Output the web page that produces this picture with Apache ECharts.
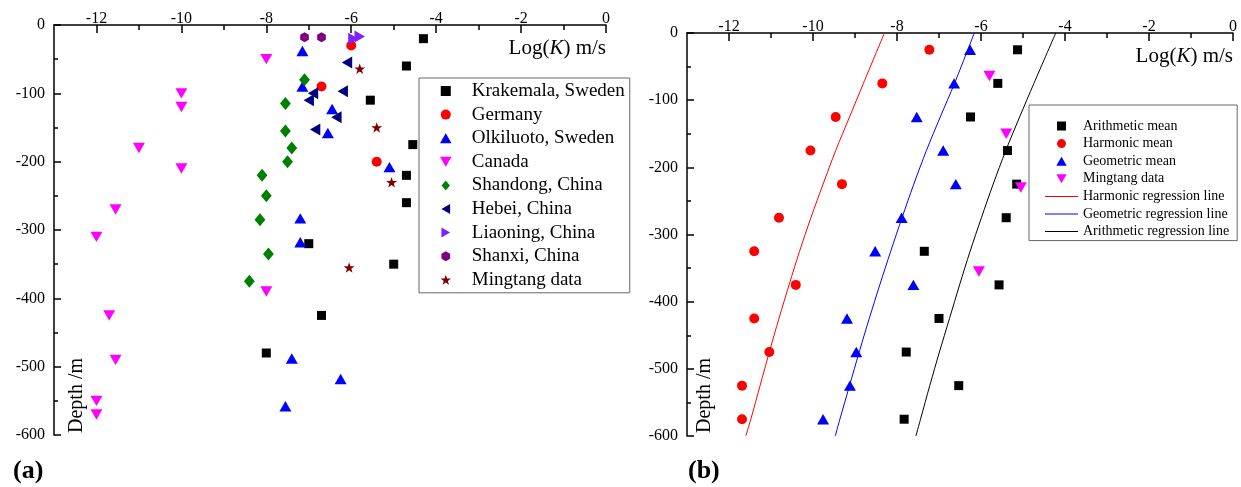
<!DOCTYPE html>
<html>
<head>
<meta charset="utf-8">
<script src="https://cdn.jsdelivr.net/npm/echarts@6/dist/echarts.min.js"></script>
<style>
  html, body { margin: 0; padding: 0; background: #fff; }
  #chart { width: 1241px; height: 487px; }
</style>
</head>
<body>
<div id="chart"></div>
<script>
// ---- panel (a): log(K) vs depth, by site ----
const krakemala = [[-4.3,-20],[-4.7,-60],[-5.55,-110],[-4.55,-175],[-4.7,-220],[-4.7,-260],[-7.0,-320],[-5.0,-350],[-6.7,-425],[-8.0,-480]];
const germany = [[-6.0,-30],[-6.7,-90],[-5.4,-200]];
const olkiluoto = [[-7.15,-38],[-7.15,-90],[-6.45,-123],[-6.55,-158],[-5.1,-208],[-7.2,-283],[-7.2,-318],[-7.4,-488],[-6.25,-518],[-7.55,-558]];
const canada = [[-8,-50],[-10,-100],[-10,-120],[-11,-180],[-10,-210],[-11.55,-270],[-12,-310],[-8,-390],[-11.7,-425],[-11.55,-490],[-12,-550],[-12,-570]];
const shandong = [[-7.1,-80],[-7.55,-115],[-7.55,-155],[-7.4,-180],[-7.5,-200],[-8.1,-220],[-8.0,-250],[-8.15,-285],[-7.95,-335],[-8.4,-375]];
const hebei = [[-6.1,-55],[-6.2,-97],[-6.9,-100],[-7.0,-110],[-6.35,-135],[-6.85,-153]];
const liaoning = [[-5.95,-20],[-5.8,-17]];
const shanxi = [[-7.1,-18],[-6.7,-18]];
const mingtang = [[-5.8,-64],[-5.4,-150],[-5.05,-230],[-6.05,-355]];

// ---- panel (b): means per 50 m interval ----
const depthsB = [-25,-75,-125,-175,-225,-275,-325,-375,-425,-475,-525,-575];
const arithmetic = [-5.13,-5.6,-6.25,-5.37,-5.15,-5.4,-7.35,-5.57,-7.0,-7.78,-6.53,-7.83];
const harmonic = [-7.23,-8.35,-9.46,-10.06,-9.31,-10.81,-11.4,-10.41,-11.4,-11.04,-11.69,-11.69];
const geometric = [-6.26,-6.64,-7.53,-6.9,-6.6,-7.89,-8.52,-7.61,-9.19,-8.97,-9.12,-9.76];

// regression curves
const lineDepths = [0,-75,-125,-175,-225,-275,-325,-375,-425,-475,-525,-575,-600];
const harmonicLine = [-8.3,-8.8,-9.13,-9.46,-9.76,-10.05,-10.32,-10.57,-10.81,-11.04,-11.26,-11.48,-11.6];
const geometricLine = [-6.16,-6.63,-6.97,-7.3,-7.6,-7.88,-8.15,-8.41,-8.66,-8.9,-9.13,-9.36,-9.47];
const arithmeticLine = [-4.22,-4.74,-5.08,-5.41,-5.71,-5.99,-6.26,-6.51,-6.75,-6.99,-7.22,-7.44,-7.55];

const xMajor = [-12,-10,-8,-6,-4,-2,0];
const xMinor = [-11,-9,-7,-5,-3,-1];

const font = 'Liberation Serif';
const square = 'path://M0,0L10,0L10,10L0,10Z';
const diamond = 'path://M5,0L10,6L5,12L0,6Z';
const upTri = 'path://M5,0L10,8.66L0,8.66Z';
const downTri = 'path://M0,0L10,0L5,8.66Z';
const leftTri = 'path://M0,5L8.66,0L8.66,10Z';
const rightTri = 'path://M0,0L8.66,5L0,10Z';
const hexagon = 'path://M5,0L9.33,2.5L9.33,7.5L5,10L0.67,7.5L0.67,2.5Z';
const star = 'path://M5,0L6.18,3.45L9.76,3.45L6.88,5.6L7.94,9.05L5,6.9L2.06,9.05L3.12,5.6L0.24,3.45L3.82,3.45Z';
const lineIcon = 'path://M0,0L33,0L33,1L0,1Z';

function zip(xs, ys){
    return xs.map((x, i) => [x, ys[i]]);
}

function xAxes(grid){
    const base = {
        gridIndex: grid, type: 'value', position: 'top', min: -13, max: 0,
        splitLine: {show: false}
    };
    return [
        Object.assign({}, base, {
            name: 'Log({i|K}) m/s',
            nameLocation: 'end',
            nameGap: 0,
            nameTextStyle: {
                fontFamily: font, fontSize: 21, color: '#000',
                align: 'right', verticalAlign: 'top', padding: [13, 0, 0, 0],
                rich: {i: {fontFamily: font, fontSize: 21, fontStyle: 'italic', color: '#000'}}
            },
            axisLine: {onZero: false, lineStyle: {color: '#000', width: 1.5}},
            axisTick: {inside: true, length: 8, customValues: xMajor, lineStyle: {color: '#000', width: 1.5}},
            axisLabel: {customValues: xMajor, margin: -2, fontFamily: font, fontSize: 16, color: '#000'}
        }),
        // odd-valued minor ticks
        Object.assign({}, base, {
            axisLine: {show: false, onZero: false},
            axisTick: {inside: true, length: 5, customValues: xMinor, lineStyle: {color: '#000', width: 1.5}},
            axisLabel: {show: false}
        })
    ];
}

function yAxis(grid){
    return {
        gridIndex: grid, type: 'value', min: -600, max: 0, interval: 100,
        splitLine: {show: false},
        axisLine: {show: true, onZero: false, lineStyle: {color: '#000', width: 1.5}},
        axisTick: {show: true, inside: true, length: 7, lineStyle: {color: '#000', width: 1.5}},
        minorTick: {show: true, splitNumber: 2, length: 4, lineStyle: {color: '#000', width: 1.5}},
        axisLabel: {margin: 9, fontFamily: font, fontSize: 16, color: '#000'}
    };
}

function scatter(name, data, symbol, size, color, xi, yi){
    return {
        name: name, type: 'scatter', data: data,
        xAxisIndex: xi, yAxisIndex: yi,
        symbol: symbol, symbolSize: size, symbolKeepAspect: true,
        itemStyle: {color: color, opacity: 1}
    };
}

function curve(name, data, color){
    return {
        name: name, type: 'line', data: data, xAxisIndex: 2, yAxisIndex: 1,
        symbol: 'none', smooth: 0.3, lineStyle: {color: color, width: 1},
        itemStyle: {color: color}
    };
}

const chart = echarts.init(document.getElementById('chart'));
chart.setOption({
    animation: false,
    backgroundColor: '#fff',
    grid: [
        {left: 54, top: 25, width: 552, height: 410},
        {left: 687, top: 33, width: 546, height: 403}
    ],
    xAxis: xAxes(0).concat(xAxes(1)),
    yAxis: [yAxis(0), yAxis(1)],
    legend: [
        {
            // content box is trimmed to the widest icon, hence the large left padding
            orient: 'vertical', align: 'left', left: 419, top: 78,
            padding: [3, 5, 3, 21], itemGap: 3.6, itemWidth: 42, itemHeight: 10,
            borderColor: '#666', borderWidth: 1, backgroundColor: '#fff',
            textStyle: {fontFamily: font, fontSize: 19, lineHeight: 20, color: '#000'},
            data: ['Krakemala, Sweden','Germany','Olkiluoto, Sweden','Canada','Shandong, China',
                   'Hebei, China','Liaoning, China','Shanxi, China','Mingtang data']
        },
        {
            orient: 'vertical', align: 'left', left: 1029, top: 105,
            padding: [13, 8, 1, 16], itemGap: 1.6, itemWidth: 33, itemHeight: 9,
            borderColor: '#666', borderWidth: 1, backgroundColor: '#fff',
            textStyle: {fontFamily: font, fontSize: 14, lineHeight: 16, color: '#000'},
            formatter: name => name.replace(' (b)', ''),
            data: ['Arithmetic mean','Harmonic mean','Geometric mean','Mingtang data (b)',
                   {name: 'Harmonic regression line', icon: lineIcon},
                   {name: 'Geometric regression line', icon: lineIcon},
                   {name: 'Arithmetic regression line', icon: lineIcon}]
        }
    ],
    graphic: [
        {type: 'text', x: 13, y: 471, style: {text: '(a)', font: 'bold 26px "Liberation Serif"', fill: '#000', textVerticalAlign: 'middle'}},
        {type: 'text', x: 688, y: 471, style: {text: '(b)', font: 'bold 26px "Liberation Serif"', fill: '#000', textVerticalAlign: 'middle'}},
        {type: 'text', x: 77, y: 433, rotation: Math.PI / 2, style: {text: 'Depth /m', font: '20px "Liberation Serif"', fill: '#000', textVerticalAlign: 'middle'}},
        {type: 'text', x: 705, y: 433, rotation: Math.PI / 2, style: {text: 'Depth /m', font: '20px "Liberation Serif"', fill: '#000', textVerticalAlign: 'middle'}}
    ],
    series: [
        scatter('Krakemala, Sweden', krakemala, square, 9, '#000', 0, 0),
        scatter('Germany', germany, 'circle', 10, '#ff0000', 0, 0),
        scatter('Olkiluoto, Sweden', olkiluoto, upTri, 12, '#0000ff', 0, 0),
        scatter('Canada', canada, downTri, 12, '#ff00ff', 0, 0),
        scatter('Shandong, China', shandong, diamond, 13, '#008000', 0, 0),
        scatter('Hebei, China', hebei, leftTri, 12, '#000080', 0, 0),
        scatter('Liaoning, China', liaoning, rightTri, 12, '#8020ff', 0, 0),
        scatter('Shanxi, China', shanxi, hexagon, 10, '#800080', 0, 0),
        scatter('Mingtang data', mingtang, star, 11, '#800000', 0, 0),

        curve('Harmonic regression line', zip(harmonicLine, lineDepths), '#ff0000'),
        curve('Geometric regression line', zip(geometricLine, lineDepths), '#0000ff'),
        curve('Arithmetic regression line', zip(arithmeticLine, lineDepths), '#000'),
        scatter('Arithmetic mean', zip(arithmetic, depthsB), square, 9, '#000', 2, 1),
        scatter('Harmonic mean', zip(harmonic, depthsB), 'circle', 10, '#ff0000', 2, 1),
        scatter('Geometric mean', zip(geometric, depthsB), upTri, 12, '#0000ff', 2, 1),
        scatter('Mingtang data (b)', mingtang, downTri, 12, '#ff00ff', 2, 1)
    ]
});
</script>
</body>
</html>
